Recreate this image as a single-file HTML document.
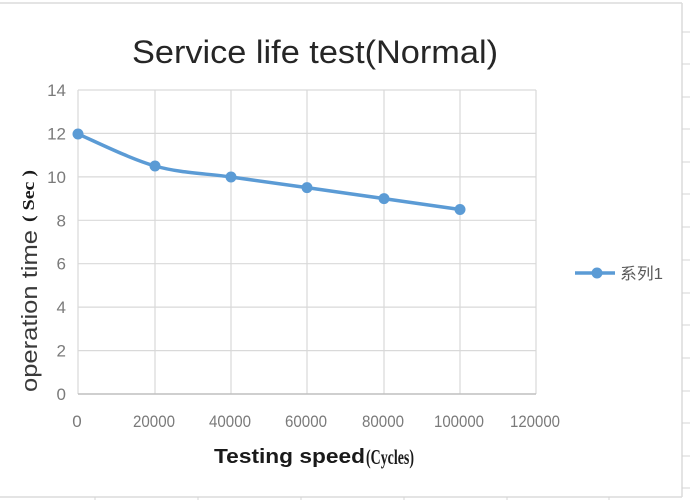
<!DOCTYPE html>
<html><head><meta charset="utf-8"><style>
html,body{margin:0;padding:0;background:#fff;}
svg{display:block;}
</style></head><body>
<svg width="690" height="500" viewBox="0 0 690 500" xmlns="http://www.w3.org/2000/svg">
<rect width="690" height="500" fill="#fff"/>
<!-- outer chart border -->
<line x1="0" y1="3" x2="682" y2="3" stroke="#dcdcdc" stroke-width="1.5"/>
<line x1="682" y1="3" x2="682" y2="497" stroke="#dcdcdc" stroke-width="1.5"/>
<line x1="0" y1="497" x2="682" y2="497" stroke="#dcdcdc" stroke-width="1.5"/>
<!-- spreadsheet stubs -->
<g stroke="#d4d4d4" stroke-width="1">
<line x1="682" y1="32" x2="690" y2="32"/><line x1="682" y1="64" x2="690" y2="64"/>
<line x1="682" y1="97" x2="690" y2="97"/><line x1="682" y1="129" x2="690" y2="129"/>
<line x1="682" y1="162" x2="690" y2="162"/><line x1="682" y1="194" x2="690" y2="194"/>
<line x1="682" y1="227" x2="690" y2="227"/><line x1="682" y1="260" x2="690" y2="260"/>
<line x1="682" y1="293" x2="690" y2="293"/><line x1="682" y1="325" x2="690" y2="325"/>
<line x1="682" y1="358" x2="690" y2="358"/><line x1="682" y1="391" x2="690" y2="391"/>
<line x1="682" y1="423" x2="690" y2="423"/><line x1="682" y1="456" x2="690" y2="456"/>
<line x1="682" y1="488" x2="690" y2="488"/>
<line x1="95" y1="497" x2="95" y2="500"/><line x1="198" y1="497" x2="198" y2="500"/>
<line x1="301" y1="497" x2="301" y2="500"/><line x1="404" y1="497" x2="404" y2="500"/>
<line x1="507" y1="497" x2="507" y2="500"/><line x1="609" y1="497" x2="609" y2="500"/>
</g>
<!-- title -->
<text x="132" y="63" font-family="Liberation Sans, sans-serif" font-size="32" fill="#262626" textLength="366" lengthAdjust="spacingAndGlyphs">Service life test(Normal)</text>
<!-- gridlines -->
<g stroke="#d9d9d9" stroke-width="1.2">
<line x1="78" y1="90" x2="536" y2="90"/>
<line x1="78" y1="133.4" x2="536" y2="133.4"/>
<line x1="78" y1="176.9" x2="536" y2="176.9"/>
<line x1="78" y1="220.3" x2="536" y2="220.3"/>
<line x1="78" y1="263.7" x2="536" y2="263.7"/>
<line x1="78" y1="307.1" x2="536" y2="307.1"/>
<line x1="78" y1="350.6" x2="536" y2="350.6"/>
<line x1="78" y1="90" x2="78" y2="394"/>
<line x1="155" y1="90" x2="155" y2="394"/>
<line x1="231" y1="90" x2="231" y2="394"/>
<line x1="307" y1="90" x2="307" y2="394"/>
<line x1="384" y1="90" x2="384" y2="394"/>
<line x1="460" y1="90" x2="460" y2="394"/>
<line x1="536" y1="90" x2="536" y2="394"/>
</g>
<line x1="78" y1="394" x2="536" y2="394" stroke="#bfbfbf" stroke-width="1.5"/>
<!-- y tick labels -->
<g font-family="Liberation Sans, sans-serif" font-size="17" fill="#7a7a7a" text-anchor="end">
<text x="66" y="96">14</text>
<text x="66" y="139.4">12</text>
<text x="66" y="182.9">10</text>
<text x="66" y="226.3">8</text>
<text x="66" y="269.7">6</text>
<text x="66" y="313.1">4</text>
<text x="66" y="356.6">2</text>
<text x="66" y="400">0</text>
</g>
<!-- x tick labels -->
<g font-family="Liberation Sans, sans-serif" font-size="17" fill="#7a7a7a" text-anchor="middle">
<text x="77" y="427">0</text>
<text x="154" y="427" textLength="42" lengthAdjust="spacingAndGlyphs">20000</text>
<text x="230" y="427" textLength="42" lengthAdjust="spacingAndGlyphs">40000</text>
<text x="306" y="427" textLength="42" lengthAdjust="spacingAndGlyphs">60000</text>
<text x="383" y="427" textLength="42" lengthAdjust="spacingAndGlyphs">80000</text>
<text x="459" y="427" textLength="50" lengthAdjust="spacingAndGlyphs">100000</text>
<text x="535" y="427" textLength="50" lengthAdjust="spacingAndGlyphs">120000</text>
</g>
<!-- x axis title -->
<text x="214" y="463" font-family="Liberation Sans, sans-serif" font-weight="bold" font-size="20" fill="#1a1a1a" textLength="151" lengthAdjust="spacingAndGlyphs">Testing speed</text>
<text x="366" y="464" font-family="Liberation Serif, serif" font-weight="bold" font-size="21" fill="#1a1a1a" textLength="48" lengthAdjust="spacingAndGlyphs">(Cycles)</text>
<!-- y axis title -->
<g transform="translate(37,392) rotate(-90)">
<text x="0" y="0" font-family="Liberation Sans, sans-serif" font-size="22" fill="#3a3a3a" textLength="162" lengthAdjust="spacingAndGlyphs">operation time</text>
<text x="170" y="-3" font-family="Liberation Serif, serif" font-weight="bold" font-size="17" fill="#1a1a1a" textLength="52" lengthAdjust="spacingAndGlyphs">( Sec )</text>
</g>
<!-- series -->
<path d="M78,134 C90.8,139.3 129.5,158.8 155,166 C180.5,173.2 205.7,173.4 231,177 C256.3,180.6 281.5,184 307,187.6 C332.5,191.2 358.5,195 384,198.6 C409.5,202.25 447.3,207.7 460,209.5" fill="none" stroke="#5b9bd5" stroke-width="3.5" stroke-linejoin="round" stroke-linecap="round"/>
<g fill="#5b9bd5">
<circle cx="78" cy="134" r="5.5"/>
<circle cx="155" cy="166" r="5.5"/>
<circle cx="231" cy="177" r="5.5"/>
<circle cx="307" cy="187.6" r="5.5"/>
<circle cx="384" cy="198.6" r="5.5"/>
<circle cx="460" cy="209.5" r="5.5"/>
</g>
<!-- legend -->
<line x1="575" y1="273" x2="615" y2="273" stroke="#5b9bd5" stroke-width="3.5"/>
<circle cx="597" cy="273" r="5.5" fill="#5b9bd5"/>
<text x="620" y="279" font-family="Liberation Sans, 'Noto Sans CJK SC', sans-serif" font-size="16" fill="#595959" textLength="43" lengthAdjust="spacingAndGlyphs">系列1</text>
</svg>
</body></html>
